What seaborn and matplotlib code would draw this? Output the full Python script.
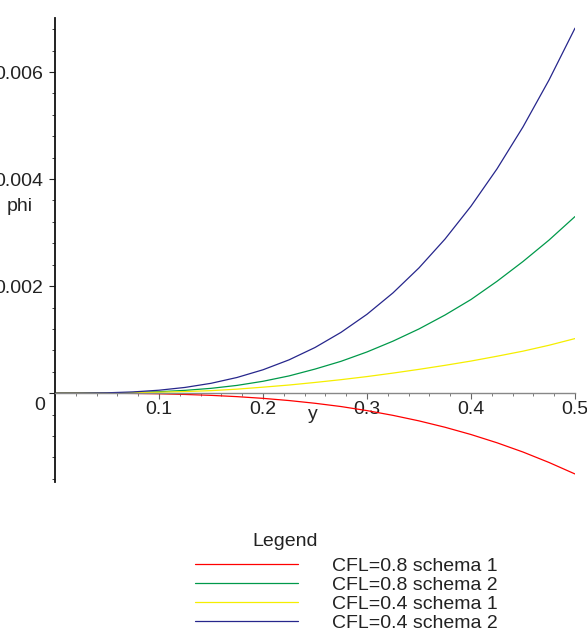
import pandas as pd
import matplotlib
matplotlib.use("Agg")
import matplotlib.pyplot as plt
import seaborn as sns
from matplotlib.ticker import MultipleLocator
from matplotlib.transforms import ScaledTranslation

# values
y_vals = [0.0, 0.025, 0.05, 0.075, 0.1, 0.125, 0.15, 0.175, 0.2, 0.225, 0.25,
          0.275, 0.3, 0.325, 0.35, 0.375, 0.4, 0.425, 0.45, 0.475, 0.5]
phi_cfl08_s1 = [0.0, -0.0000002, -0.0000015, -0.000005, -0.000012, -0.000024, -0.000041,
                -0.000065, -0.000097, -0.000138, -0.000189, -0.00025, -0.000326, -0.000415,
                -0.000518, -0.000637, -0.000773, -0.000927, -0.0011, -0.001295, -0.00151]
phi_cfl08_s2 = [0.0, 0.0000004, 0.000003, 0.000011, 0.000027, 0.000052, 0.00009, 0.000145,
                0.000222, 0.000322, 0.00045, 0.000595, 0.00077, 0.000972, 0.0012, 0.00146,
                0.00175, 0.00209, 0.00246, 0.00286, 0.0033]
phi_cfl04_s1 = [0.0, 0.0000003, 0.000002, 0.000007, 0.000018, 0.00003, 0.000047, 0.000075,
                0.000112, 0.000152, 0.0002, 0.000252, 0.00031, 0.000375, 0.000445, 0.00052,
                0.0006, 0.00069, 0.000785, 0.000895, 0.00102]
phi_cfl04_s2 = [0.0, 0.0000009, 0.0000068, 0.000023, 0.000055, 0.000107, 0.000184, 0.000293,
                0.000437, 0.000622, 0.000853, 0.001136, 0.001474, 0.001874, 0.002341, 0.002879,
                0.003494, 0.004191, 0.004975, 0.005851, 0.00682]

series_labels = ["CFL=0.8 schema 1", "CFL=0.8 schema 2",
                 "CFL=0.4 schema 1", "CFL=0.4 schema 2"]
series_colors = ["#ff0000", "#00994a", "#f5ee00", "#26268c"]

x_ticks = [0.1, 0.2, 0.3, 0.4, 0.5]
x_tick_labels = ["0.1", "0.2", "0.3", "0.4", "0.5"]
y_ticks = [0.0, 0.002, 0.004, 0.006]
y_tick_labels = ["0", "0.002", "0.004", "0.006"]

# long format table for seaborn
frames = []
for lab, vals in zip(series_labels, [phi_cfl08_s1, phi_cfl08_s2, phi_cfl04_s1, phi_cfl04_s2]):
    frames.append(pd.DataFrame({"y": y_vals, "phi": vals, "series": lab}))
df = pd.concat(frames, ignore_index=True)

sns.set_style("ticks")
plt.rcParams['font.family'] = ['Liberation Sans', 'DejaVu Sans']
plt.rcParams['text.color'] = '#222222'
plt.rcParams['xtick.color'] = '#666666'
plt.rcParams['ytick.color'] = '#222222'
plt.rcParams['xtick.labelcolor'] = '#222222'

fig = plt.figure(figsize=(5.87, 6.38), dpi=100)
ax = fig.add_axes([55 / 587, 1 - 482 / 638, 520 / 587, 464 / 638])

sns.lineplot(data=df, x="y", y="phi", hue="series", hue_order=series_labels,
             palette=dict(zip(series_labels, series_colors)), linewidth=0.9,
             legend=False, ax=ax)

ax.set_xlim(0, 0.5)
ax.set_ylim(-0.00166, 0.00701)
ax.spines['left'].set_position(('data', 0))
ax.spines['bottom'].set_position(('data', 0))
ax.spines['top'].set_visible(False)
ax.spines['right'].set_visible(False)
ax.spines['left'].set_linewidth(1.3)
ax.spines['left'].set_color('#111111')
ax.spines['bottom'].set_linewidth(1.0)
ax.spines['bottom'].set_color('#888888')

ax.set_xticks(x_ticks)
ax.set_xticklabels(x_tick_labels)
ax.xaxis.set_minor_locator(MultipleLocator(0.02))
ax.set_yticks(y_ticks)
ax.set_yticklabels(y_tick_labels)
ax.yaxis.set_minor_locator(MultipleLocator(0.0004))

ax.tick_params(which='major', direction='out', length=4.5, width=0.8, labelsize=14)
ax.tick_params(which='minor', direction='out', length=2.2, width=0.6)
ax.tick_params(axis='x', which='major', pad=1)
ax.tick_params(axis='y', which='major', pad=4)

# Maple puts the "0" a bit lower
zero_lab = ax.get_yticklabels()[0]
zero_lab.set_transform(zero_lab.get_transform() +
                       ScaledTranslation(2 / 100, -10 / 100, fig.dpi_scale_trans))

ax.set_xlabel("y", fontsize=14)
ax.xaxis.set_label_coords(0.496, 0.164)
ax.set_ylabel("phi", fontsize=14, rotation=0, ha='center', va='center')
ax.yaxis.set_label_coords(-0.067, 0.593)

fig.text(252 / 587, 1 - 542 / 638, "Legend", fontsize=14, ha='left', va='center')
fig.legend(handles=ax.lines[:4], labels=series_labels, loc='upper left',
           bbox_to_anchor=(195 / 587, 1 - 557 / 638), frameon=False, fontsize=14,
           handlelength=5.3, handletextpad=1.75, labelspacing=0.08,
           borderpad=0, borderaxespad=0)

fig.savefig("out.png", dpi=100)
